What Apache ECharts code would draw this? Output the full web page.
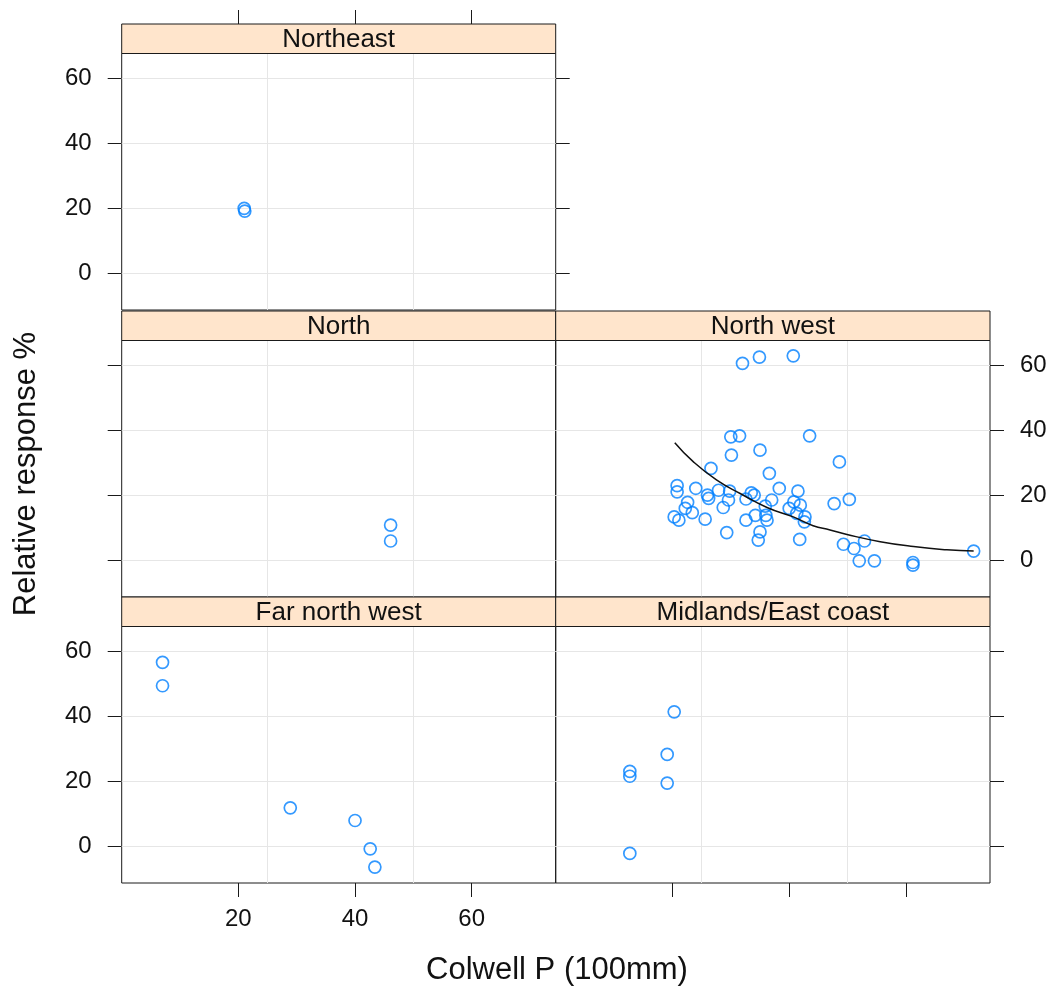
<!DOCTYPE html>
<html>
<head>
<meta charset="utf-8">
<script src="https://cdn.jsdelivr.net/npm/echarts@6/dist/echarts.min.js"></script>
<style>
  html, body { margin: 0; padding: 0; background: #fff; }
  #chart { width: 1053px; height: 991px; }
</style>
</head>
<body>
<div id="chart"></div>
<script>
// panel names, lattice order
var panelNames = ['Northeast', 'North', 'North west', 'Far north west', 'Midlands/East coast'];

// [Colwell P, relative response %]
var northeast = [[21.0, 19.9], [21.1, 19.1]];
var north = [[46.1, 10.8], [46.1, 5.9]];
var northWest = [
  [30.0, 37.9], [31.5, 38.2], [43.5, 38.2], [30.1, 32.3], [35.0, 33.8], [26.6, 28.2],
  [36.6, 26.7], [20.8, 22.9], [20.8, 21.0], [24.0, 22.1], [26.0, 20.0], [26.2, 19.0],
  [27.9, 21.5], [29.8, 21.2], [29.6, 18.5], [28.7, 16.2], [22.6, 17.8], [22.2, 15.9],
  [23.4, 14.6], [20.3, 13.3], [21.1, 12.3], [25.6, 12.6], [29.3, 8.5], [32.6, 18.8],
  [33.5, 20.7], [34.0, 20.0], [37.0, 18.5], [38.3, 22.1], [41.5, 21.2], [35.9, 16.6],
  [34.2, 13.8], [32.6, 12.3], [36.0, 13.8], [36.2, 12.3], [35.0, 8.7], [34.7, 6.2],
  [40.0, 15.9], [40.8, 17.9], [41.9, 16.9], [41.3, 14.4], [42.7, 13.3], [42.6, 11.8],
  [41.8, 6.4], [48.6, 30.2], [47.7, 17.4], [50.3, 18.7], [49.3, 4.9], [51.1, 3.6],
  [52.9, 5.9], [52.0, -0.2], [54.6, -0.2], [61.2, -0.7], [61.2, -1.5], [71.6, 2.8],
  [32.0, 60.5], [34.9, 62.4], [40.7, 62.8]
];
var farNorthWest = [[7.0, 56.5], [7.0, 49.3], [28.9, 11.8], [40.0, 7.9], [42.6, -0.8], [43.4, -6.4]];
var midlands = [[20.3, 41.3], [19.1, 28.2], [12.7, 23.0], [12.7, 21.5], [19.1, 19.4], [12.7, -2.2]];

// fitted curve in the North west panel
var northWestFit = [
  [20.4, 36.1], [23.6, 30.2], [27.6, 24.6], [31.6, 20.5], [36.2, 16.2], [40.7, 13.3],
  [44.1, 10.6], [47.0, 9.3], [49.9, 7.9], [55.6, 5.7], [61.3, 4.2], [67.0, 3.2], [71.6, 2.8]
];

var xTicks = [20, 40, 60];
var yTicks = [0, 20, 40, 60];
var xGrid = [25, 50];
var yGrid = [0, 20, 40, 60];

var xMin = 0, xMax = 74.4;
var yMin = -11.3, yMax = 67.5;

var FONT = "'Liberation Sans', Arial, sans-serif";
var BLUE = '#0080ff';

// panel boxes (plot area, strip sits above)
var stripH = 29.5;
var boxes = [
  { left: 121.7, top: 53.5, width: 434, height: 256.5 },
  { left: 121.7, top: 340.5, width: 434, height: 256.5 },
  { left: 555.7, top: 340.5, width: 434.3, height: 256.5 },
  { left: 121.7, top: 626.5, width: 434, height: 256.5 },
  { left: 555.7, top: 626.5, width: 434.3, height: 256.5 }
];

var chart = echarts.init(document.getElementById('chart'), null, { renderer: 'canvas' });

var grids = boxes.map(function (b) {
  return {
    left: b.left, top: b.top, width: b.width, height: b.height,
    show: true, borderColor: '#1a1a1a', borderWidth: 1, backgroundColor: 'transparent'
  };
});

function xAx(grid, opts) {
  opts = opts || {};
  return {
    type: 'value', gridIndex: grid, min: xMin, max: xMax,
    position: opts.position || 'bottom', offset: opts.offset || 0,
    axisLine: { show: false, onZero: false },
    splitLine: { show: false },
    axisTick: { show: !!opts.ticks, length: 14, customValues: xTicks, lineStyle: { color: '#1a1a1a' } },
    axisLabel: { show: !!opts.labels, customValues: xTicks, margin: 24, fontSize: 24, fontFamily: FONT, color: '#111' }
  };
}
function yAx(grid, opts) {
  opts = opts || {};
  return {
    type: 'value', gridIndex: grid, min: yMin, max: yMax,
    position: opts.position || 'left',
    axisLine: { show: false, onZero: false },
    splitLine: { show: false },
    axisTick: { show: !!opts.ticks, length: 14, customValues: yTicks, lineStyle: { color: '#1a1a1a' } },
    axisLabel: { show: !!opts.labels, customValues: yTicks, margin: 30, fontSize: 24, fontFamily: FONT, color: '#111' }
  };
}

var xAxes = [
  xAx(0),
  xAx(0, { position: 'top', offset: stripH, ticks: true }),
  xAx(1),
  xAx(2),
  xAx(3, { ticks: true, labels: true }),
  xAx(4, { ticks: true })
];
var yAxes = [
  yAx(0, { ticks: true, labels: true }),
  yAx(0, { position: 'right', ticks: true }),
  yAx(1, { ticks: true }),
  yAx(2),
  yAx(2, { position: 'right', ticks: true, labels: true }),
  yAx(3, { ticks: true, labels: true }),
  yAx(4),
  yAx(4, { position: 'right', ticks: true })
];

var gridLines = xGrid.map(function (v) { return { xAxis: v }; })
  .concat(yGrid.map(function (v) { return { yAxis: v }; }));

function panelSeries(data, xi, yi) {
  return {
    type: 'scatter', xAxisIndex: xi, yAxisIndex: yi, data: data,
    symbol: 'circle', symbolSize: 12,
    itemStyle: { color: 'rgba(0,0,0,0)', borderColor: BLUE, borderWidth: 1.7 },
    z: 3,
    markLine: {
      silent: true, symbol: 'none', z: 1, animation: false,
      label: { show: false },
      lineStyle: { color: '#e6e6e6', width: 1, type: 'solid' },
      emphasis: { disabled: true },
      data: gridLines
    }
  };
}

var series = [
  panelSeries(northeast, 0, 0),
  panelSeries(north, 2, 2),
  panelSeries(northWest, 3, 3),
  panelSeries(farNorthWest, 4, 5),
  panelSeries(midlands, 5, 6),
  {
    type: 'line', xAxisIndex: 3, yAxisIndex: 3, data: northWestFit,
    smooth: true, showSymbol: false, z: 4,
    lineStyle: { color: '#111', width: 1.5 }
  }
];

// strips and outer titles
var graphics = [];
boxes.forEach(function (b, i) {
  graphics.push({
    type: 'rect', z: 10,
    shape: { x: b.left, y: b.top - stripH, width: b.width, height: stripH },
    style: { fill: '#ffe5cc', stroke: '#1a1a1a', lineWidth: 1 }
  });
  graphics.push({
    type: 'text', z: 11,
    x: b.left + b.width / 2, y: b.top - stripH / 2 + 1,
    style: { text: panelNames[i], fontSize: 26, fontFamily: FONT, fill: '#111', align: 'center', verticalAlign: 'middle' }
  });
});
graphics.push({
  type: 'text', x: 557, y: 970,
  style: { text: 'Colwell P (100mm)', fontSize: 31, fontFamily: FONT, fill: '#111', align: 'center', verticalAlign: 'middle' }
});
graphics.push({
  type: 'text', x: 26, y: 474, rotation: Math.PI / 2,
  style: { text: 'Relative response %', fontSize: 31, fontFamily: FONT, fill: '#111', align: 'center', verticalAlign: 'middle' }
});

chart.setOption({
  backgroundColor: '#fff',
  animation: false,
  grid: grids,
  xAxis: xAxes,
  yAxis: yAxes,
  series: series,
  graphic: graphics
});
</script>
</body>
</html>
